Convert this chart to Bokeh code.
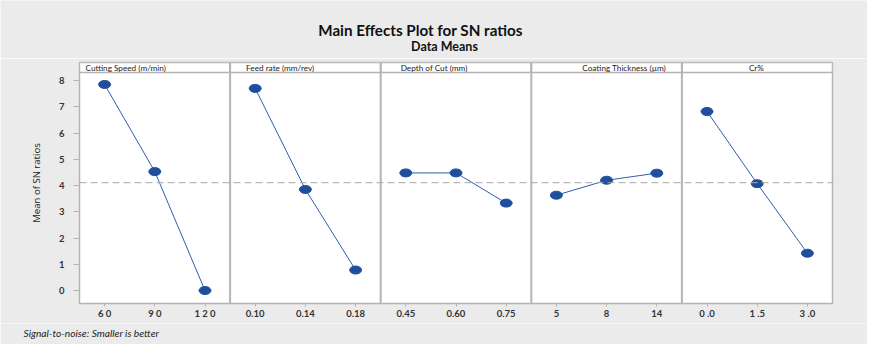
from bokeh.plotting import figure
from bokeh.layouts import column
from bokeh.models import Range1d, FixedTicker, Span, Label, ColumnDataSource
from bokeh.embed import file_html
from bokeh.resources import INLINE

# ---------------- data ----------------
factors = ["Cutting Speed (m/min)", "Feed rate (mm/rev)", "Depth of Cut (mm)",
           "Coating Thickness (\u00b5m)", "Cr%"]
level_labels = [["6 0", "9 0", "1 2 0"],
                ["0.10", "0.14", "0.18"],
                ["0.45", "0.60", "0.75"],
                ["5", "8", "14"],
                ["0 .0", "1 .5", "3 .0"]]
cutting_speed = [7.85, 4.53, 0.00]
feed_rate = [7.70, 3.85, 0.78]
depth_of_cut = [4.48, 4.48, 3.33]
coating_thickness = [3.63, 4.20, 4.47]
cr_pct = [6.82, 4.07, 1.42]
series = [cutting_speed, feed_rate, depth_of_cut, coating_thickness, cr_pct]
y_ticks = [0, 1, 2, 3, 4, 5, 6, 7, 8]
title_text = "Main Effects Plot for SN ratios"
subtitle_text = "Data Means"
y_label = "Mean of SN ratios"
footer_text = "Signal-to-noise: Smaller is better"

# ---------------- style / layout ----------------
W = 867
TOP_H = 58
ML, MR, MT, MB = 79, 35, 4, 20
FRAME_H = 241
MAIN_H = MT + FRAME_H + MB
FOOT_H = 344 - TOP_H - MAIN_H
YMIN, YMAX = -0.495, 8.686
HEADER_PX = 10
header_text_offsets = [6, 16, 20, 51, 67]   # px from panel left
BG = "#ebebeb"
GRAY = "#b4b4b4"
LINE_C = "#2e5faf"
MARK_C = "#1f4f9c"
FONT = "Lato"


def blank_fig(h):
    f = figure(width=W, height=h, output_backend="svg", toolbar_location=None,
               x_axis_type=None, y_axis_type=None, title=None,
               x_range=Range1d(0, W), y_range=Range1d(0, h),
               min_border=0, frame_align=False)
    f.border_fill_color = BG
    f.background_fill_color = BG
    f.outline_line_color = None
    f.xgrid.visible = False
    f.ygrid.visible = False
    return f


# ---- title block ----
top = blank_fig(TOP_H)
top.add_layout(Label(x=420, y=TOP_H - 29, x_units="screen", y_units="screen",
                     text=title_text, text_font=FONT, text_font_size="15.2px",
                     text_font_style="bold", text_color="#111111",
                     text_align="center", text_baseline="middle"))
top.add_layout(Label(x=444, y=TOP_H - 46, x_units="screen", y_units="screen",
                     text=subtitle_text, text_font=FONT, text_font_size="12.5px",
                     text_font_style="bold", text_color="#111111",
                     text_align="center", text_baseline="middle"))

# ---- main panel ----
n_lv = 3
xmin, xmax = 0.5, n_lv * len(factors) + 0.5

p = figure(width=W, height=MAIN_H, output_backend="svg", toolbar_location=None,
           title=None, x_range=Range1d(xmin, xmax), y_range=Range1d(YMIN, YMAX),
           min_border_left=ML, min_border_right=MR, min_border_top=MT,
           min_border_bottom=MB, frame_align=False)
p.border_fill_color = BG
p.background_fill_color = "white"
p.outline_line_color = GRAY
p.outline_line_width = 1.5
p.xgrid.visible = False
p.ygrid.visible = False

p.yaxis.ticker = FixedTicker(ticks=y_ticks)
p.yaxis.axis_line_color = GRAY
p.yaxis.major_tick_line_color = GRAY
p.yaxis.major_tick_out = 6
p.yaxis.major_tick_in = 0
p.yaxis.minor_tick_line_color = None
p.yaxis.major_label_standoff = 9
p.yaxis.major_label_text_font = FONT
p.yaxis.major_label_text_font_size = "9.5px"
p.yaxis.major_label_text_font_style = "bold"
p.yaxis.major_label_text_color = "#333333"
p.yaxis.axis_label = y_label
p.yaxis.axis_label_text_font = "Open Sans"
p.yaxis.axis_label_text_font_size = "9.6px"
p.yaxis.axis_label_text_font_style = "normal"
p.yaxis.axis_label_text_color = "#222222"
p.yaxis.axis_label_standoff = 13

xt = list(range(1, n_lv * len(factors) + 1))
overrides = {}
for i, labs in enumerate(level_labels):
    for j, lab in enumerate(labs):
        overrides[i * n_lv + j + 1] = lab
p.xaxis.ticker = FixedTicker(ticks=xt)
p.xaxis.major_label_overrides = overrides
p.xaxis.axis_line_color = GRAY
p.xaxis.major_tick_line_color = GRAY
p.xaxis.major_tick_out = 3
p.xaxis.major_tick_in = 0
p.xaxis.minor_tick_line_color = None
p.xaxis.major_label_standoff = 1
p.xaxis.major_label_text_font = FONT
p.xaxis.major_label_text_font_size = "9.5px"
p.xaxis.major_label_text_font_style = "bold"
p.xaxis.major_label_text_color = "#333333"

# header strips
units_per_px = (YMAX - YMIN) / FRAME_H
header_bottom = YMAX - HEADER_PX * units_per_px
lefts = [i * n_lv + 0.5 for i in range(len(factors))]
rights = [i * n_lv + n_lv + 0.5 for i in range(len(factors))]
p.quad(left=lefts, right=rights, bottom=[header_bottom] * len(factors),
       top=[YMAX] * len(factors), fill_color="white", line_color=GRAY, line_width=1.5)

# mean line
all_vals = [v for s in series for v in s]
mean_val = sum(all_vals) / len(all_vals)
p.add_layout(Span(location=mean_val, dimension="width", line_color="#a8a8a8",
                  line_dash="7 4", line_width=1))

# panel separators
for i in range(1, len(factors)):
    p.add_layout(Span(location=i * n_lv + 0.5, dimension="height",
                      line_color=GRAY, line_width=2))

# data
for i, vals in enumerate(series):
    xs = [i * n_lv + j + 1 for j in range(n_lv)]
    src = ColumnDataSource(dict(x=xs, y=vals))
    p.line("x", "y", source=src, line_color=LINE_C, line_width=1)
    p.ellipse("x", "y", source=src, width=12, height=8, width_units="screen",
              height_units="screen", fill_color=MARK_C, line_color=MARK_C)

# header texts
panel_px = (W - ML - MR) / len(factors)
for i, name in enumerate(factors):
    p.add_layout(Label(x=i * panel_px + header_text_offsets[i],
                       y=(header_bottom + YMAX) / 2,
                       x_units="screen", y_units="data", text=name,
                       text_font=FONT, text_font_size="8.2px", text_color="#222222",
                       text_baseline="middle", text_align="left"))

# ---- footer ----
foot = blank_fig(FOOT_H)
foot.add_layout(Label(x=23, y=FOOT_H - 9, x_units="screen", y_units="screen",
                      text=footer_text, text_font=FONT, text_font_size="10.2px",
                      text_font_style="italic", text_color="#222222",
                      text_align="left", text_baseline="middle"))

layout = column(top, p, foot, spacing=0)
open("out.html", "w").write(file_html(layout, INLINE))
